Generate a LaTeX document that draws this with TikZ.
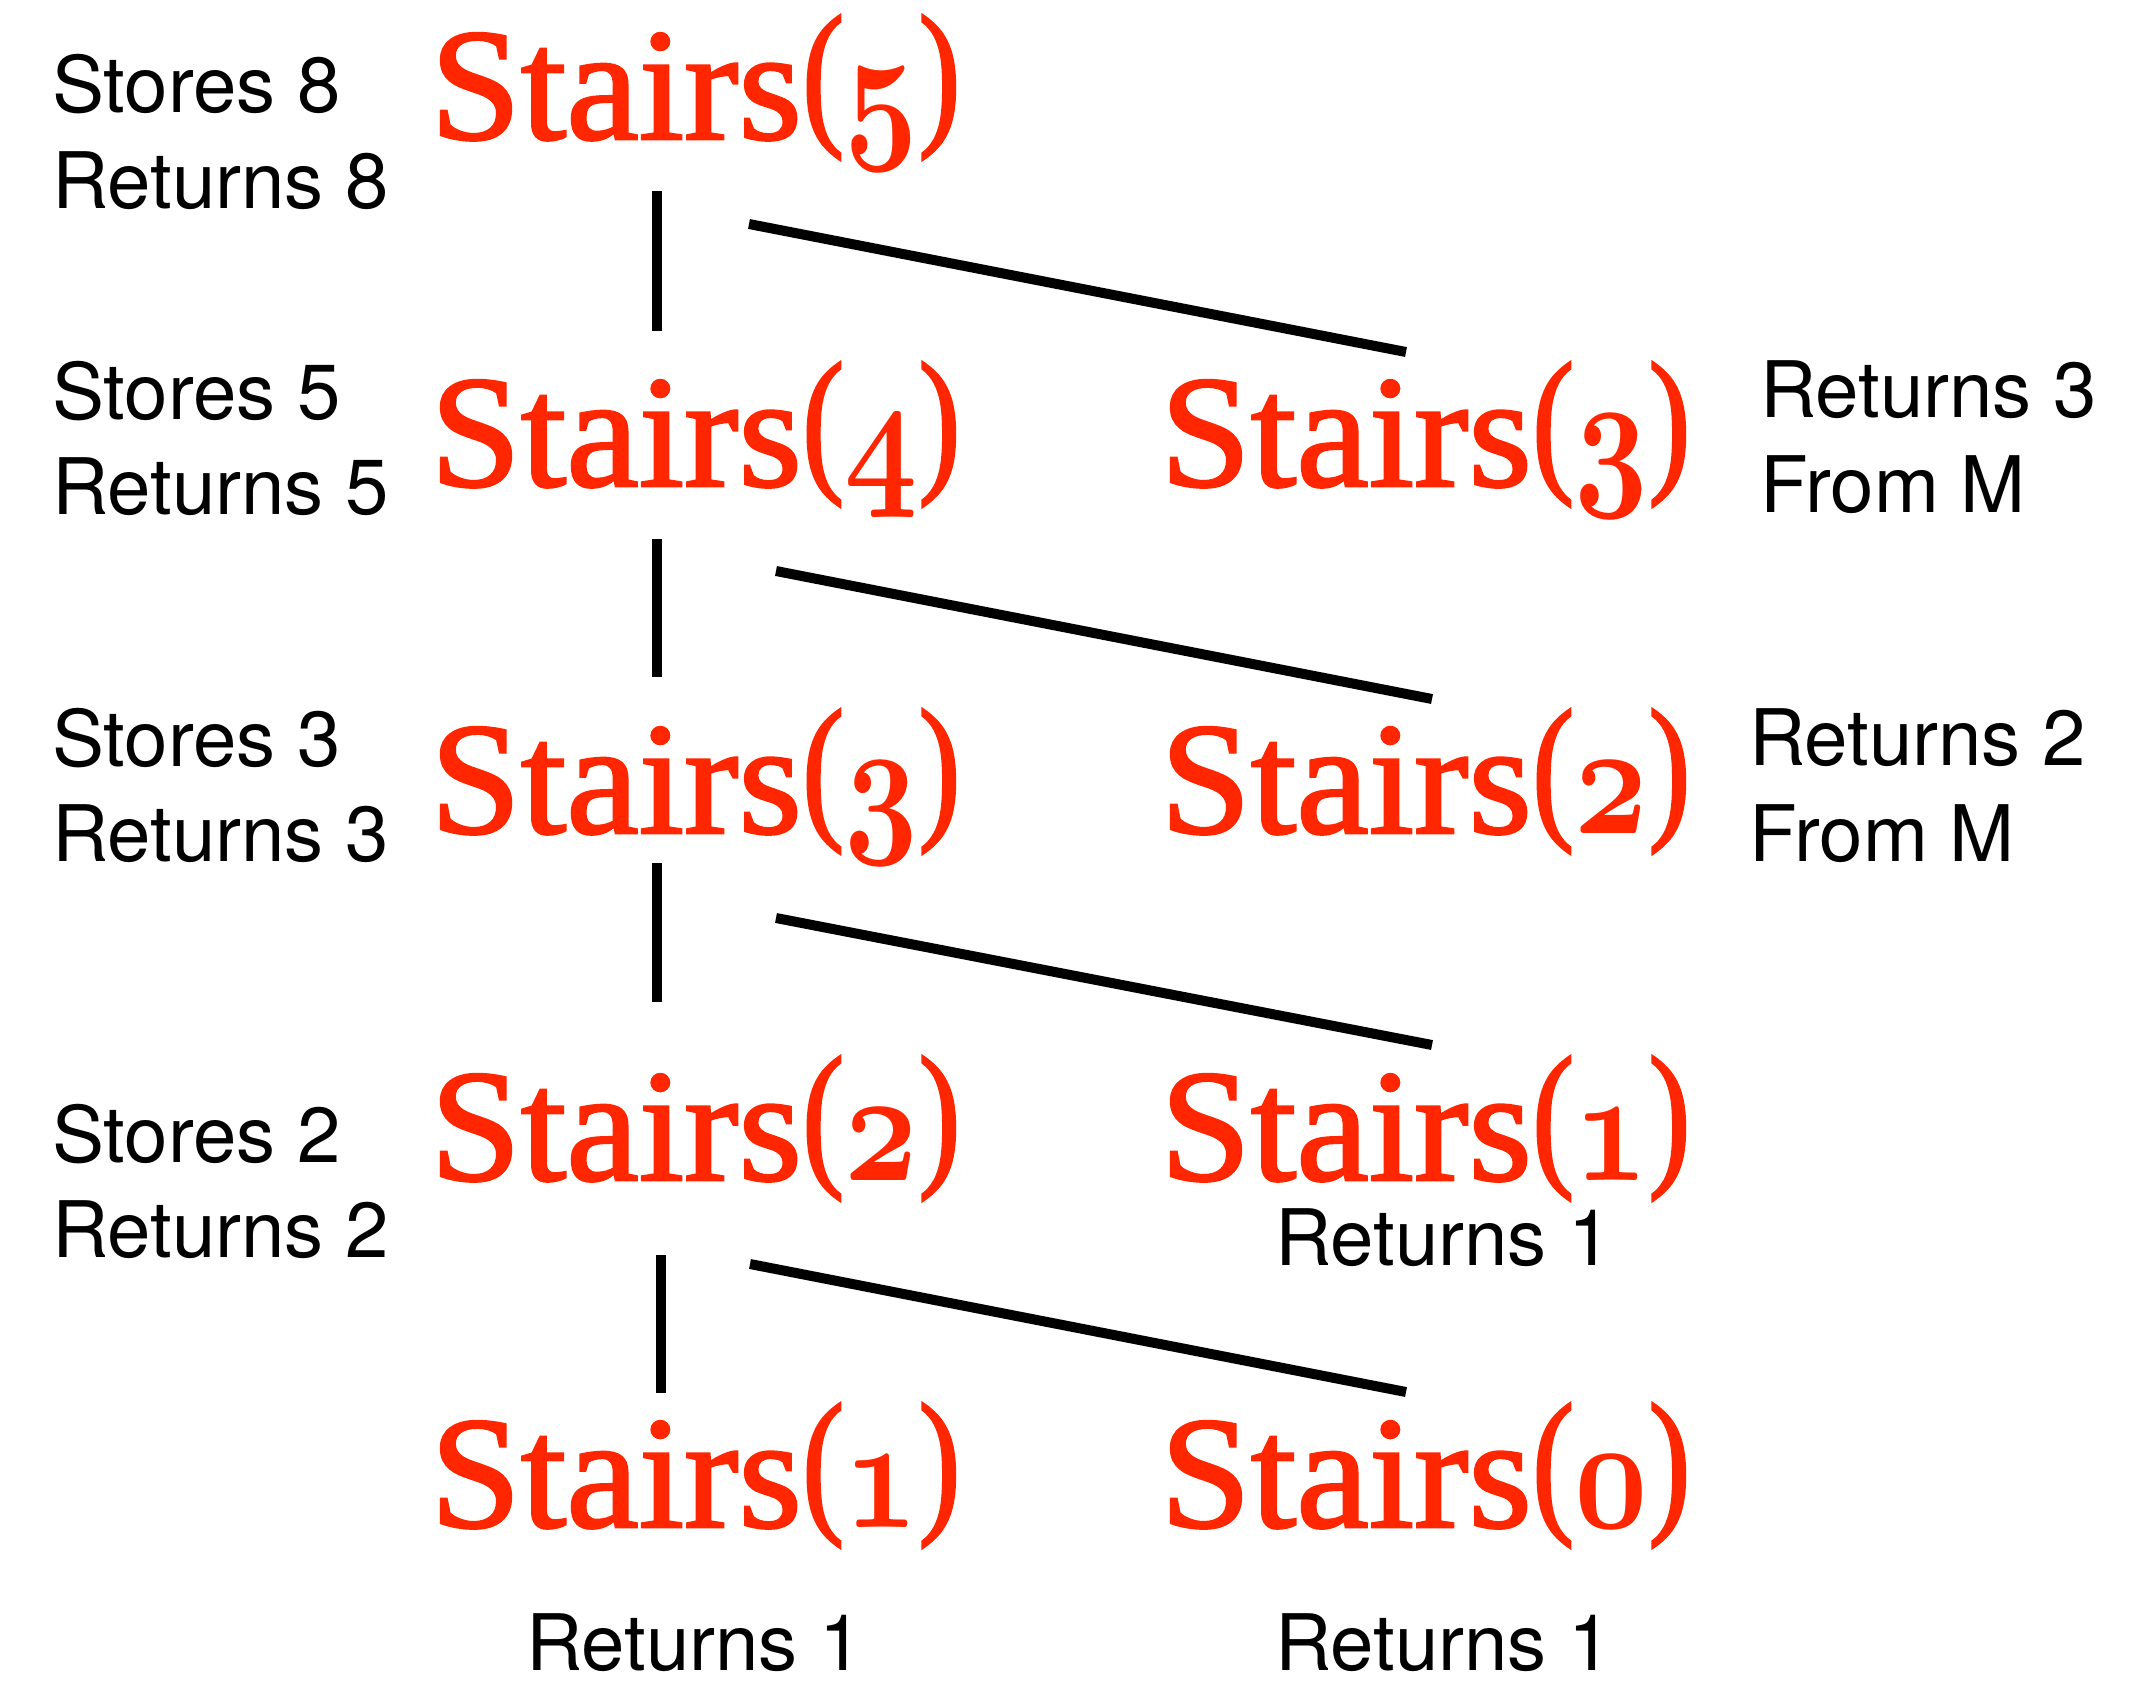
\documentclass[tikz,border=0pt]{standalone}
\usepackage{fontspec}
\usepackage{graphicx}
\newfontfamily\redserif{Liberation Serif}[FakeBold=1.6]
\newfontfamily\labsans{TeX Gyre Heros}
\definecolor{stairred}{RGB}{255,38,0}
\font\osdigfont=cmmib10 at 160pt
\newcommand\osdig[1]{{\osdigfont #1}}
\newcommand\stairtxt[1]{\scalebox{1.02}[1]{Stairs}\scalebox{0.8}[1]{\raisebox{13pt}{(}\osdig{#1}\raisebox{13pt}{)}}}
\tikzset{
  redtxt/.style={inner sep=0pt, anchor=base west, text=stairred,
    font=\redserif\fontsize{160}{160}\selectfont},
  labtxt/.style={inner sep=0pt, anchor=base west, text=black,
    font=\labsans\fontsize{78}{96}\selectfont},
  conn/.style={line width=10pt, draw=black, line cap=butt}
}
\begin{document}
\begin{tikzpicture}[x=1pt,y=-1pt]
\useasboundingbox (0,0) rectangle (2142,1684);
\fill[white] (0,0) rectangle (2142,1684);
% red calls
\node[redtxt] (s5)  at (430,139)  {\stairtxt{5}};
\node[redtxt] (s4)  at (430,486)  {\stairtxt{4}};
\node[redtxt] (s3r) at (1160,486) {\stairtxt{3}};
\node[redtxt] (s3)  at (430,833)  {\stairtxt{3}};
\node[redtxt] (s2r) at (1160,833) {\stairtxt{2}};
\node[redtxt] (s2)  at (430,1180) {\stairtxt{2}};
\node[redtxt] (s1r) at (1160,1180){\stairtxt{1}};
\node[redtxt] (s1)  at (430,1527) {\stairtxt{1}};
\node[redtxt] (s0)  at (1160,1527){\stairtxt{0}};
% labels
\node[labtxt] (st8) at (52,112)  {Stores 8};
\node[labtxt] (rt8) at (52,208)  {Returns 8};
\node[labtxt] (st5) at (52,419)  {Stores 5};
\node[labtxt] (rt5) at (52,514)  {Returns 5};
\node[labtxt] (st3) at (52,766)  {Stores 3};
\node[labtxt] (rt3) at (52,861)  {Returns 3};
\node[labtxt] (st2) at (52,1162) {Stores 2};
\node[labtxt] (rt2) at (52,1257) {Returns 2};
\node[labtxt] (r3a) at (1760,417) {Returns 3};
\node[labtxt] (r3b) at (1760,512) {From M};
\node[labtxt] (r2a) at (1749,765) {Returns 2};
\node[labtxt] (r2b) at (1749,861) {From M};
\node[labtxt] (r1a) at (1275,1265) {Returns 1};
\node[labtxt] (r1b) at (526,1670) {Returns 1};
\node[labtxt] (r1c) at (1275,1670) {Returns 1};
% connector end points
\coordinate (v1a) at (657,191);  \coordinate (v1b) at (657,331);
\coordinate (d1a) at (749,224);  \coordinate (d1b) at (1406,352);
\coordinate (v2a) at (657,539);  \coordinate (v2b) at (657,677);
\coordinate (d2a) at (776,571);  \coordinate (d2b) at (1432,699);
\coordinate (v3a) at (657,863);  \coordinate (v3b) at (657,1002);
\coordinate (d3a) at (776,918);  \coordinate (d3b) at (1432,1045);
\coordinate (v4a) at (661,1255); \coordinate (v4b) at (661,1393);
\coordinate (d4a) at (750,1264); \coordinate (d4b) at (1406,1392);
\draw[conn] (v1a) -- (v1b);
\draw[conn] (d1a) -- (d1b);
\draw[conn] (v2a) -- (v2b);
\draw[conn] (d2a) -- (d2b);
\draw[conn] (v3a) -- (v3b);
\draw[conn] (d3a) -- (d3b);
\draw[conn] (v4a) -- (v4b);
\draw[conn] (d4a) -- (d4b);
\end{tikzpicture}
\end{document}
